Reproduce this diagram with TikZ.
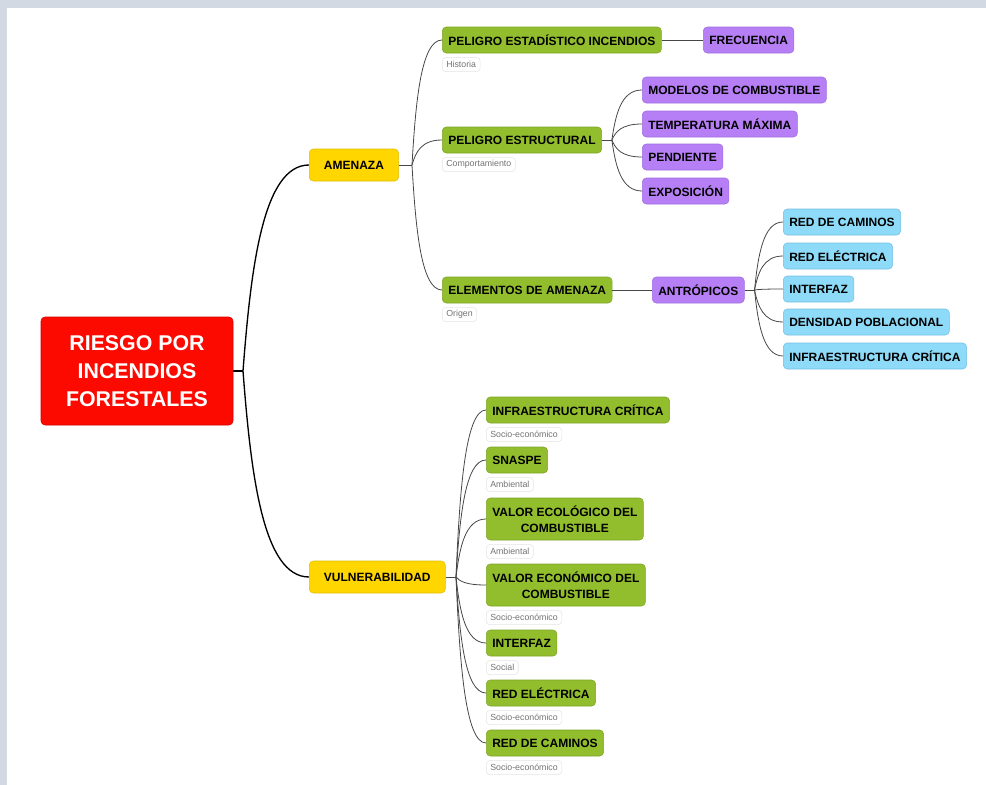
\documentclass[tikz,border=0pt]{standalone}
\usepackage{fontspec}
\setmainfont{Liberation Sans}
\usetikzlibrary{calc}

\begin{document}
\begin{tikzpicture}[x=0.75pt,y=0.75pt,yscale=-1,xscale=1,
  root box/.style={draw={rgb, 255:red, 215; green, 0; blue, 0 }, fill={rgb, 255:red, 252; green, 10; blue, 0 }, line width=0.4pt, rounded corners=3pt, text=white, align=center, minimum width=144pt, minimum height=81pt, font=\fontsize{16}{21}\selectfont\bfseries},
  main box/.style={draw={rgb, 255:red, 225; green, 190; blue, 0 }, fill={rgb, 255:red, 255; green, 214; blue, 0 }, line width=0.4pt, rounded corners=3pt, inner xsep=11pt, inner ysep=0pt, minimum height=24pt, font=\fontsize{9}{11}\selectfont\bfseries},
  leaf box/.style={line width=0.4pt, rounded corners=3pt, inner xsep=4.5pt, inner ysep=0pt, minimum height=19.5pt, align=center, font=\fontsize{9}{12}\selectfont\bfseries},
  green box/.style={leaf box, draw={rgb, 255:red, 125; green, 165; blue, 40 }, fill={rgb, 255:red, 146; green, 190; blue, 46 }},
  purple box/.style={leaf box, draw={rgb, 255:red, 160; green, 110; blue, 220 }, fill={rgb, 255:red, 183; green, 127; blue, 246 }},
  blue box/.style={leaf box, draw={rgb, 255:red, 115; green, 190; blue, 225 }, fill={rgb, 255:red, 142; green, 219; blue, 249 }},
  note tag/.style={draw={rgb, 255:red, 228; green, 228; blue, 228 }, fill=white, line width=0.4pt, rounded corners=2.5pt, inner xsep=3pt, inner ysep=0pt, minimum height=10.5pt, text={rgb, 255:red, 115; green, 115; blue, 115 }, font=\fontsize{6.6}{7}\selectfont},
  trunk/.style={line width=1pt, black},
  branch/.style={line width=0.6pt, color={rgb, 255:red, 70; green, 70; blue, 70 }},
  mind link/.style={to path={.. controls ($(\tikztostart)!0.5!(\tikztostart |- \tikztotarget) + 0.12*(\tikztotarget) - 0.12*(\tikztostart |- \tikztotarget)$) and ($(\tikztostart |- \tikztotarget)!0.3!(\tikztotarget)$) .. (\tikztotarget)}}
]
\useasboundingbox (0,0) rectangle (986,785);
%Shape: Rectangle (background bands)
\fill [fill={rgb, 255:red, 211; green, 217; blue, 227 }] (0,0) rectangle (986,8);
\fill [fill={rgb, 255:red, 211; green, 217; blue, 227 }] (0,0) rectangle (7,785);

% Text Node
\draw (137,371) node [root box] (root) {RIESGO POR\\INCENDIOS\\FORESTALES};
% Text Node
\draw (309,165) node [anchor=west][main box] (amenaza) {AMENAZA};
% Text Node
\draw (309,577) node [anchor=west][main box] (vuln) {VULNERABILIDAD};

% Text Node
\draw (442,40) node [anchor=west][green box] (pelest) {PELIGRO ESTADÍSTICO INCENDIOS};
% Text Node
\draw (703,40) node [anchor=west][purple box] (frec) {FRECUENCIA};
% Text Node
\draw (442,140) node [anchor=west][green box] (pelestr) {PELIGRO ESTRUCTURAL};
% Text Node
\draw (642,90) node [anchor=west][purple box] (modelos) {MODELOS DE COMBUSTIBLE};
% Text Node
\draw (642,124) node [anchor=west][purple box] (temp) {TEMPERATURA MÁXIMA};
% Text Node
\draw (642,157) node [anchor=west][purple box] (pend) {PENDIENTE};
% Text Node
\draw (642,191) node [anchor=west][purple box] (expo) {EXPOSICIÓN};
% Text Node
\draw (442,290) node [anchor=west][green box] (elem) {ELEMENTOS DE AMENAZA};
% Text Node
\draw (652,290) node [anchor=west][purple box] (antro) {ANTRÓPICOS};
% Text Node
\draw (783,222) node [anchor=west][blue box] (acaminos) {RED DE CAMINOS};
% Text Node
\draw (783,256) node [anchor=west][blue box] (aelectrica) {RED ELÉCTRICA};
% Text Node
\draw (783,289) node [anchor=west][blue box] (ainterfaz) {INTERFAZ};
% Text Node
\draw (783,322) node [anchor=west][blue box] (adensidad) {DENSIDAD POBLACIONAL};
% Text Node
\draw (783,356) node [anchor=west][blue box] (ainfra) {INFRAESTRUCTURA CRÍTICA};

% Text Node
\draw (486,410) node [anchor=west][green box] (vinfra) {INFRAESTRUCTURA CRÍTICA};
% Text Node
\draw (486,460) node [anchor=west][green box] (vsnaspe) {SNASPE};
% Text Node
\draw (486,519) node [anchor=west][green box, minimum height=31.5pt] (vecol) {VALOR ECOLÓGICO DEL\\COMBUSTIBLE};
% Text Node
\draw (486,585) node [anchor=west][green box, minimum height=31.5pt] (vecon) {VALOR ECONÓMICO DEL\\COMBUSTIBLE};
% Text Node
\draw (486,643) node [anchor=west][green box] (vinterfaz) {INTERFAZ};
% Text Node
\draw (486,693) node [anchor=west][green box] (velectrica) {RED ELÉCTRICA};
% Text Node
\draw (486,743) node [anchor=west][green box] (vcaminos) {RED DE CAMINOS};

% Text Node (tags)
\draw ($(pelest.south west)+(0,4)$) node [anchor=north west][note tag] (tpelest) {Historia};
\draw ($(pelestr.south west)+(0,4)$) node [anchor=north west][note tag] (tpelestr) {Comportamiento};
\draw ($(elem.south west)+(0,4)$) node [anchor=north west][note tag] (telem) {Origen};
\draw ($(vinfra.south west)+(0,4)$) node [anchor=north west][note tag] (tvinfra) {Socio-económico};
\draw ($(vsnaspe.south west)+(0,4)$) node [anchor=north west][note tag] (tvsnaspe) {Ambiental};
\draw ($(vecol.south west)+(0,4)$) node [anchor=north west][note tag] (tvecol) {Ambiental};
\draw ($(vecon.south west)+(0,4)$) node [anchor=north west][note tag] (tvecon) {Socio-económico};
\draw ($(vinterfaz.south west)+(0,4)$) node [anchor=north west][note tag] (tvinterfaz) {Social};
\draw ($(velectrica.south west)+(0,4)$) node [anchor=north west][note tag] (tvelectrica) {Socio-económico};
\draw ($(vcaminos.south west)+(0,4)$) node [anchor=north west][note tag] (tvcaminos) {Socio-económico};

% junctions
\coordinate (jroot) at (243,371);
\coordinate (jamen) at (412,165);
\coordinate (jestr) at ($(pelestr.east)+(10,0)$);
\coordinate (jantr) at ($(antro.east)+(10,0)$);
\coordinate (jvuln) at (456,577);

%Curve Lines (root)
\draw [trunk] (root.east) -- (jroot);
\draw [trunk] (jroot) to [mind link] (amenaza.west);
\draw [trunk] (jroot) to [mind link] (vuln.west);

%Curve Lines (amenaza)
\draw [branch] (amenaza.east) -- (jamen);
\draw [branch] (jamen) to [mind link] (pelest.west);
\draw [branch] (jamen) to [mind link] (pelestr.west);
\draw [branch] (jamen) to [mind link] (elem.west);
%Straight Lines
\draw [branch] (pelest.east) -- (frec.west);
\draw [branch] (elem.east) -- (antro.west);

%Curve Lines (peligro estructural)
\draw [branch] (pelestr.east) -- (jestr);
\draw [branch] (jestr) to [mind link] (modelos.west);
\draw [branch] (jestr) to [mind link] (temp.west);
\draw [branch] (jestr) to [mind link] (pend.west);
\draw [branch] (jestr) to [mind link] (expo.west);

%Curve Lines (antropicos)
\draw [branch] (antro.east) -- (jantr);
\draw [branch] (jantr) to [mind link] (acaminos.west);
\draw [branch] (jantr) to [mind link] (aelectrica.west);
\draw [branch] (jantr) to [mind link] (ainterfaz.west);
\draw [branch] (jantr) to [mind link] (adensidad.west);
\draw [branch] (jantr) to [mind link] (ainfra.west);

%Curve Lines (vulnerabilidad)
\draw [branch] (vuln.east) -- (jvuln);
\draw [branch] (jvuln) to [mind link] (vinfra.west);
\draw [branch] (jvuln) to [mind link] (vsnaspe.west);
\draw [branch] (jvuln) to [mind link] (vecol.west);
\draw [branch] (jvuln) to [mind link] (vecon.west);
\draw [branch] (jvuln) to [mind link] (vinterfaz.west);
\draw [branch] (jvuln) to [mind link] (velectrica.west);
\draw [branch] (jvuln) to [mind link] (vcaminos.west);

\end{tikzpicture}
\end{document}
